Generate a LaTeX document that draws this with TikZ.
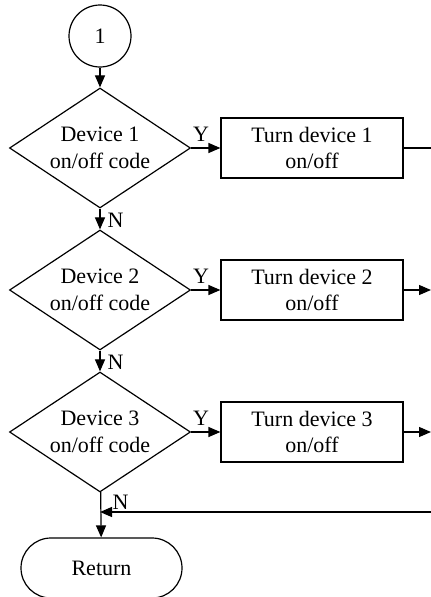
\documentclass[tikz,border=0pt]{standalone}
\usepackage{fontspec}
\setmainfont{Liberation Serif}
\usetikzlibrary{shapes.geometric,shapes.misc,arrows.meta}

\begin{document}
\begin{tikzpicture}[x=1pt,y=-1pt,
  line width=1.2pt,
  every node/.style={font=\fontsize{22}{26.5}\selectfont},
  conn/.style={-{Triangle[length=12pt,width=10pt]}},
  plain/.style={-},
  connector/.style={circle,draw,minimum size=62pt,inner sep=0pt},
  decision/.style={diamond,draw,aspect=1.5,minimum width=181pt,minimum height=120pt,inner sep=0pt,align=center},
  action/.style={rectangle,draw,minimum width=182pt,minimum height=60pt,inner sep=0pt,align=center},
  terminal/.style={rounded rectangle,draw,minimum width=161pt,minimum height=60pt,inner sep=0pt},
  lbl/.style={inner sep=0pt}]
  \useasboundingbox (0,0) rectangle (431,597);

  % entry connector
  \node[connector] (c1) at (100,36) {1};

  % decisions
  \node[decision] (d1) at (100,148) {Device 1\\on/off code};
  \node[decision] (d2) at (100,290) {Device 2\\on/off code};
  \node[decision] (d3) at (100,432) {Device 3\\on/off code};

  % actions
  \node[action] (b1) at (312,148) {Turn device 1\\on/off};
  \node[action] (b2) at (312,290) {Turn device 2\\on/off};
  \node[action] (b3) at (312,432) {Turn device 3\\on/off};

  % exit
  \node[terminal] (ret) at (101.5,568) {Return};

  % free ends at the right border
  \coordinate (o1) at (431,148);
  \coordinate (o2) at (431,290);
  \coordinate (o3) at (431,432);
  \coordinate (i4) at (431,512);
  \coordinate (j4) at (100,512);

  % main flow
  \draw[conn] (c1) -- (d1);
  \draw[conn] (d1) -- (d2);
  \draw[conn] (d2) -- (d3);
  \draw[conn] (d3) -- (ret);

  % yes branches
  \draw[conn] (d1.east) -- (b1.west);
  \draw[conn] (d2.east) -- (b2.west);
  \draw[conn] (d3.east) -- (b3.west);

  % outgoing lines
  \draw[plain] (b1.east) -- (o1);
  \draw[conn] (b2.east) -- (o2);
  \draw[conn] (b3.east) -- (o3);

  % return line
  \draw[conn] (i4) -- (j4);

  % branch labels
  \node[lbl] (y1) at (201,134) {Y};
  \node[lbl] (y2) at (201,276) {Y};
  \node[lbl] (y3) at (201,418) {Y};
  \node[lbl,anchor=west] (n1) at (107,220) {N};
  \node[lbl,anchor=west] (n2) at (107,362) {N};
  \node[lbl,anchor=west] (n3) at (112,502) {N};
\end{tikzpicture}
\end{document}
